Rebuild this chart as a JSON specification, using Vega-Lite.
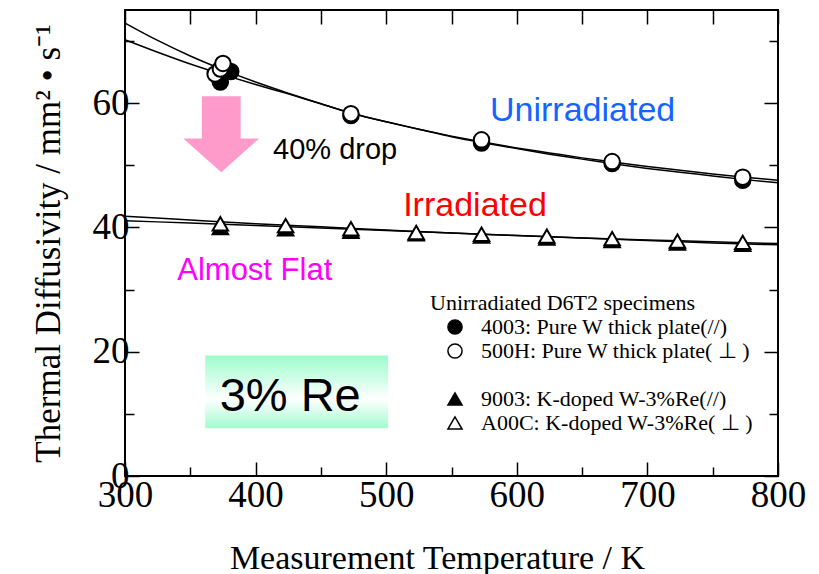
{
  "$schema": "https://vega.github.io/schema/vega-lite/v6.json",
  "width": 653,
  "height": 466,
  "autosize": {"type": "none"},
  "padding": {"left": 125, "top": 10, "right": 41, "bottom": 98},
  "background": "white",
  "config": {
    "view": {"stroke": "black", "strokeWidth": 2},
    "axis": {
      "domain": false,
      "grid": false,
      "tickColor": "black",
      "tickWidth": 1.5,
      "labelFont": "Liberation Serif",
      "labelFontSize": 37,
      "labelColor": "black",
      "titleFont": "Liberation Serif",
      "titleFontWeight": "normal",
      "titleColor": "black"
    }
  },
  "datasets": {
    "fits": [
      {"fit": "A", "temp": 300, "value": 72.9}, {"fit": "A", "temp": 325, "value": 70.1}, {"fit": "A", "temp": 350, "value": 67.6},
      {"fit": "A", "temp": 375, "value": 65.4}, {"fit": "A", "temp": 400, "value": 63.4}, {"fit": "A", "temp": 425, "value": 61.6},
      {"fit": "A", "temp": 450, "value": 59.9}, {"fit": "A", "temp": 475, "value": 58.3}, {"fit": "A", "temp": 500, "value": 57.0},
      {"fit": "A", "temp": 525, "value": 55.8}, {"fit": "A", "temp": 550, "value": 54.7}, {"fit": "A", "temp": 575, "value": 53.7},
      {"fit": "A", "temp": 600, "value": 52.8}, {"fit": "A", "temp": 625, "value": 52.0}, {"fit": "A", "temp": 650, "value": 51.2},
      {"fit": "A", "temp": 675, "value": 50.5}, {"fit": "A", "temp": 700, "value": 49.8}, {"fit": "A", "temp": 725, "value": 49.2},
      {"fit": "A", "temp": 750, "value": 48.6}, {"fit": "A", "temp": 775, "value": 48.1}, {"fit": "A", "temp": 800, "value": 47.6},
      {"fit": "B", "temp": 300, "value": 70.2}, {"fit": "B", "temp": 325, "value": 68.2}, {"fit": "B", "temp": 350, "value": 66.3},
      {"fit": "B", "temp": 375, "value": 64.6}, {"fit": "B", "temp": 400, "value": 63.0}, {"fit": "B", "temp": 425, "value": 61.5},
      {"fit": "B", "temp": 450, "value": 59.9}, {"fit": "B", "temp": 475, "value": 58.3}, {"fit": "B", "temp": 500, "value": 57.0},
      {"fit": "B", "temp": 525, "value": 55.8}, {"fit": "B", "temp": 550, "value": 54.6}, {"fit": "B", "temp": 575, "value": 53.6},
      {"fit": "B", "temp": 600, "value": 52.7}, {"fit": "B", "temp": 625, "value": 51.8}, {"fit": "B", "temp": 650, "value": 51.0},
      {"fit": "B", "temp": 675, "value": 50.2}, {"fit": "B", "temp": 700, "value": 49.5}, {"fit": "B", "temp": 725, "value": 48.9},
      {"fit": "B", "temp": 750, "value": 48.3}, {"fit": "B", "temp": 775, "value": 47.7}, {"fit": "B", "temp": 800, "value": 47.2},
      {"fit": "C", "temp": 300, "value": 41.8}, {"fit": "C", "temp": 350, "value": 41.2}, {"fit": "C", "temp": 400, "value": 40.6},
      {"fit": "C", "temp": 450, "value": 40.1}, {"fit": "C", "temp": 500, "value": 39.6}, {"fit": "C", "temp": 550, "value": 39.1},
      {"fit": "C", "temp": 600, "value": 38.7}, {"fit": "C", "temp": 650, "value": 38.3}, {"fit": "C", "temp": 700, "value": 38.0},
      {"fit": "C", "temp": 750, "value": 37.7}, {"fit": "C", "temp": 800, "value": 37.4},
      {"fit": "D", "temp": 300, "value": 41.1}, {"fit": "D", "temp": 350, "value": 40.7}, {"fit": "D", "temp": 400, "value": 40.3},
      {"fit": "D", "temp": 450, "value": 39.9}, {"fit": "D", "temp": 500, "value": 39.5}, {"fit": "D", "temp": 550, "value": 39.1},
      {"fit": "D", "temp": 600, "value": 38.7}, {"fit": "D", "temp": 650, "value": 38.3}, {"fit": "D", "temp": 700, "value": 37.9},
      {"fit": "D", "temp": 750, "value": 37.5}, {"fit": "D", "temp": 800, "value": 37.2}
    ],
    "measurements": [
      {"series": "4003: Pure W thick plate(//)", "temp": 373, "value": 63.4},
      {"series": "4003: Pure W thick plate(//)", "temp": 381, "value": 65.1},
      {"series": "4003: Pure W thick plate(//)", "temp": 473, "value": 58.0},
      {"series": "4003: Pure W thick plate(//)", "temp": 573, "value": 53.6},
      {"series": "4003: Pure W thick plate(//)", "temp": 673, "value": 50.3},
      {"series": "4003: Pure W thick plate(//)", "temp": 773, "value": 47.6},
      {"series": "9003: K-doped W-3%Re(//)", "temp": 373, "value": 40.0},
      {"series": "9003: K-doped W-3%Re(//)", "temp": 423, "value": 39.8},
      {"series": "9003: K-doped W-3%Re(//)", "temp": 473, "value": 39.4},
      {"series": "9003: K-doped W-3%Re(//)", "temp": 523, "value": 39.0},
      {"series": "9003: K-doped W-3%Re(//)", "temp": 573, "value": 38.6},
      {"series": "9003: K-doped W-3%Re(//)", "temp": 623, "value": 38.3},
      {"series": "9003: K-doped W-3%Re(//)", "temp": 673, "value": 37.9},
      {"series": "9003: K-doped W-3%Re(//)", "temp": 723, "value": 37.5},
      {"series": "9003: K-doped W-3%Re(//)", "temp": 773, "value": 37.3},
      {"series": "500H: Pure W thick plate( ⊥ )", "temp": 369, "value": 64.7},
      {"series": "500H: Pure W thick plate( ⊥ )", "temp": 373, "value": 65.5},
      {"series": "500H: Pure W thick plate( ⊥ )", "temp": 375, "value": 66.4},
      {"series": "500H: Pure W thick plate( ⊥ )", "temp": 473, "value": 58.3},
      {"series": "500H: Pure W thick plate( ⊥ )", "temp": 573, "value": 54.1},
      {"series": "500H: Pure W thick plate( ⊥ )", "temp": 673, "value": 50.6},
      {"series": "500H: Pure W thick plate( ⊥ )", "temp": 773, "value": 48.1},
      {"series": "A00C: K-doped W-3%Re( ⊥ )", "temp": 373, "value": 40.6},
      {"series": "A00C: K-doped W-3%Re( ⊥ )", "temp": 423, "value": 40.3},
      {"series": "A00C: K-doped W-3%Re( ⊥ )", "temp": 473, "value": 39.8},
      {"series": "A00C: K-doped W-3%Re( ⊥ )", "temp": 523, "value": 39.2},
      {"series": "A00C: K-doped W-3%Re( ⊥ )", "temp": 573, "value": 38.9},
      {"series": "A00C: K-doped W-3%Re( ⊥ )", "temp": 623, "value": 38.6},
      {"series": "A00C: K-doped W-3%Re( ⊥ )", "temp": 673, "value": 38.2},
      {"series": "A00C: K-doped W-3%Re( ⊥ )", "temp": 723, "value": 37.8},
      {"series": "A00C: K-doped W-3%Re( ⊥ )", "temp": 773, "value": 37.6}
    ]
  },
  "layer": [
    {
      "data": {"values": [{"t0": 361.4, "t1": 501.5, "v0": 7.7, "v1": 19.4}]},
      "mark": {
        "type": "rect",
        "fill": {
          "gradient": "linear", "x1": 0, "y1": 0, "x2": 0, "y2": 1,
          "stops": [
            {"offset": 0, "color": "#9cfccc"},
            {"offset": 0.6, "color": "#ffffff"},
            {"offset": 1, "color": "#a2fcd0"}
          ]
        }
      },
      "encoding": {
        "x": {"field": "t0", "type": "quantitative", "scale": {"domain": [300, 800], "nice": false, "zero": false}, "axis": null},
        "x2": {"field": "t1"},
        "y": {"field": "v0", "type": "quantitative", "scale": {"domain": [0, 75], "nice": false}, "axis": null},
        "y2": {"field": "v1"}
      }
    },
    {
      "data": {"name": "fits"},
      "mark": {"type": "line", "color": "black", "strokeWidth": 1.5, "interpolate": "monotone"},
      "encoding": {
        "detail": {"field": "fit"},
        "x": {
          "field": "temp", "type": "quantitative",
          "scale": {"domain": [300, 800], "nice": false, "zero": false},
          "axis": {
            "orient": "bottom",
            "title": "Measurement Temperature / K",
            "titleFontSize": 34,
            "titlePadding": 23,
            "titleX": 312,
            "values": [300, 350, 400, 450, 500, 550, 600, 650, 700, 750, 800],
            "labelExpr": "datum.value % 100 === 0 ? datum.label : ''",
            "tickSize": {"condition": {"test": "datum.value % 100 !== 0", "value": -9}, "value": -14},
            "labelPadding": 15,
            "labelFlush": false,
            "labelOverlap": false
          }
        },
        "y": {
          "field": "value", "type": "quantitative",
          "scale": {"domain": [0, 75], "nice": false},
          "axis": {
            "orient": "left",
            "title": "Thermal Diffusivity / mm² • s⁻¹",
            "titleFontSize": 35,
            "titlePadding": 26,
            "values": [0, 10, 20, 30, 40, 50, 60, 70],
            "labelExpr": "datum.value % 20 === 0 ? datum.label : ''",
            "tickSize": {"condition": {"test": "datum.value % 20 !== 0", "value": -9}, "value": -14},
            "labelPadding": 10,
            "labelFlush": false,
            "labelOverlap": false
          }
        }
      }
    },
    {
      "data": {"name": "measurements"},
      "mark": {"type": "point", "filled": true, "size": 240, "strokeWidth": 2, "opacity": 1},
      "encoding": {
        "x": {
          "field": "temp", "type": "quantitative",
          "scale": {"domain": [300, 800], "nice": false, "zero": false},
          "axis": {
            "orient": "top", "title": null, "labels": false,
            "values": [300, 350, 400, 450, 500, 550, 600, 650, 700, 750, 800],
            "tickSize": -14
          }
        },
        "y": {
          "field": "value", "type": "quantitative",
          "scale": {"domain": [0, 75], "nice": false},
          "axis": {
            "orient": "right", "title": null, "labels": false,
            "values": [0, 10, 20, 30, 40, 50, 60, 70],
            "tickSize": {"condition": {"test": "datum.value % 20 !== 0", "value": -9}, "value": -14}
          }
        },
        "shape": {
          "field": "series", "type": "nominal",
          "scale": {
            "domain": ["4003: Pure W thick plate(//)", "500H: Pure W thick plate( ⊥ )", " ", "9003: K-doped W-3%Re(//)", "A00C: K-doped W-3%Re( ⊥ )"],
            "range": ["circle", "circle", "circle", "triangle-up", "triangle-up"]
          },
          "legend": {
            "orient": "none", "legendX": 305, "legendY": 283, "padding": 0,
            "title": "Unirradiated D6T2 specimens",
            "titleFont": "Liberation Serif", "titleFontSize": 22, "titleFontWeight": "normal", "titleColor": "black",
            "titlePadding": 1, "titleLimit": 400,
            "labelFont": "Liberation Serif", "labelFontSize": 22, "labelColor": "black", "labelLimit": 400,
            "symbolOffset": 14, "labelOffset": 15, "rowPadding": 2, "symbolSize": 200, "symbolStrokeWidth": 1.5
          }
        },
        "fill": {
          "field": "series", "type": "nominal",
          "scale": {
            "domain": ["4003: Pure W thick plate(//)", "500H: Pure W thick plate( ⊥ )", " ", "9003: K-doped W-3%Re(//)", "A00C: K-doped W-3%Re( ⊥ )"],
            "range": ["black", "white", "transparent", "black", "white"]
          },
          "legend": {
            "orient": "none", "legendX": 305, "legendY": 283, "padding": 0,
            "title": "Unirradiated D6T2 specimens",
            "titleFont": "Liberation Serif", "titleFontSize": 22, "titleFontWeight": "normal", "titleColor": "black",
            "titlePadding": 1, "titleLimit": 400,
            "labelFont": "Liberation Serif", "labelFontSize": 22, "labelColor": "black", "labelLimit": 400,
            "symbolOffset": 14, "labelOffset": 15, "rowPadding": 2, "symbolSize": 200, "symbolStrokeWidth": 1.5
          }
        },
        "stroke": {
          "field": "series", "type": "nominal",
          "scale": {
            "domain": ["4003: Pure W thick plate(//)", "500H: Pure W thick plate( ⊥ )", " ", "9003: K-doped W-3%Re(//)", "A00C: K-doped W-3%Re( ⊥ )"],
            "range": ["black", "black", "transparent", "black", "black"]
          },
          "legend": {
            "orient": "none", "legendX": 305, "legendY": 283, "padding": 0,
            "title": "Unirradiated D6T2 specimens",
            "titleFont": "Liberation Serif", "titleFontSize": 22, "titleFontWeight": "normal", "titleColor": "black",
            "titlePadding": 1, "titleLimit": 400,
            "labelFont": "Liberation Serif", "labelFontSize": 22, "labelColor": "black", "labelLimit": 400,
            "symbolOffset": 14, "labelOffset": 15, "rowPadding": 2, "symbolSize": 200, "symbolStrokeWidth": 1.5
          }
        }
      }
    },
    {
      "data": {"values": [{"temp": 373.7, "value": 55.0}]},
      "mark": {
        "type": "point", "filled": true, "opacity": 1, "color": "#ff9bcb", "strokeWidth": 0, "size": 5776,
        "shape": "M-0.51,-1 L0.51,-1 L0.51,0.11 L1,0.11 L0,1 L-1,0.11 L-0.51,0.11 Z"
      },
      "encoding": {
        "x": {"field": "temp", "type": "quantitative", "axis": null},
        "y": {"field": "value", "type": "quantitative", "axis": null}
      }
    },
    {
      "data": {"values": [{"label": "40% drop", "temp": 413.4, "value": 51.0}]},
      "mark": {"type": "text", "font": "Liberation Sans", "fontSize": 29, "color": "black", "align": "left", "baseline": "alphabetic"},
      "encoding": {
        "x": {"field": "temp", "type": "quantitative", "axis": null},
        "y": {"field": "value", "type": "quantitative", "axis": null},
        "text": {"field": "label"}
      }
    },
    {
      "data": {"values": [{"label": "Unirradiated", "temp": 579.5, "value": 57.1}]},
      "mark": {"type": "text", "font": "Liberation Sans", "fontSize": 34, "color": "#1266ff", "align": "left", "baseline": "alphabetic"},
      "encoding": {
        "x": {"field": "temp", "type": "quantitative", "axis": null},
        "y": {"field": "value", "type": "quantitative", "axis": null},
        "text": {"field": "label"}
      }
    },
    {
      "data": {"values": [{"label": "Irradiated", "temp": 513.0, "value": 41.8}]},
      "mark": {"type": "text", "font": "Liberation Sans", "fontSize": 34, "color": "#ff0000", "align": "left", "baseline": "alphabetic"},
      "encoding": {
        "x": {"field": "temp", "type": "quantitative", "axis": null},
        "y": {"field": "value", "type": "quantitative", "axis": null},
        "text": {"field": "label"}
      }
    },
    {
      "data": {"values": [{"label": "Almost Flat", "temp": 340.0, "value": 31.6}]},
      "mark": {"type": "text", "font": "Liberation Sans", "fontSize": 31, "color": "#ff00ff", "align": "left", "baseline": "alphabetic"},
      "encoding": {
        "x": {"field": "temp", "type": "quantitative", "axis": null},
        "y": {"field": "value", "type": "quantitative", "axis": null},
        "text": {"field": "label"}
      }
    },
    {
      "data": {"values": [{"label": "3% Re", "temp": 426.5, "value": 10.5}]},
      "mark": {"type": "text", "font": "Liberation Sans", "fontSize": 47, "color": "black", "align": "center", "baseline": "alphabetic"},
      "encoding": {
        "x": {"field": "temp", "type": "quantitative", "axis": null},
        "y": {"field": "value", "type": "quantitative", "axis": null},
        "text": {"field": "label"}
      }
    }
  ],
  "resolve": {"axis": {"x": "independent", "y": "independent"}}
}
